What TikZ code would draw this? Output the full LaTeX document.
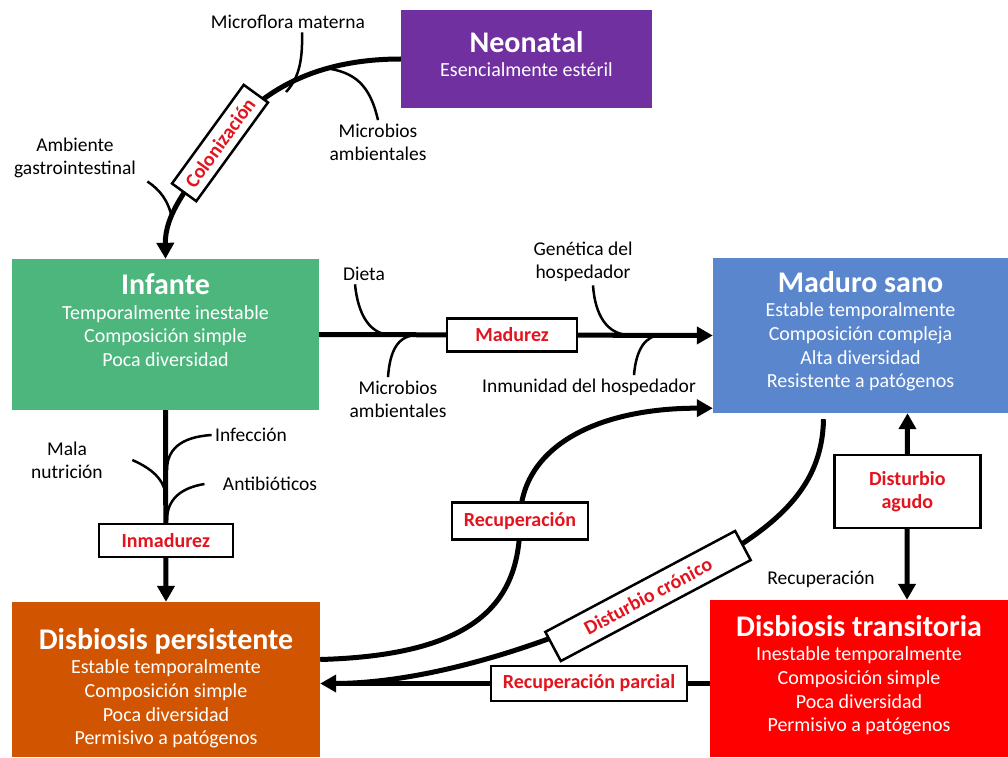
\documentclass[tikz,border=0pt]{standalone}
\usepackage{fontspec}
\setmainfont{Carlito}
\usetikzlibrary{arrows.meta, positioning}
\definecolor{neopurple}{RGB}{112,48,160}
\definecolor{infgreen}{RGB}{77,182,125}
\definecolor{madblue}{RGB}{90,134,206}
\definecolor{perorange}{RGB}{209,84,0}
\definecolor{trared}{RGB}{255,0,0}
\definecolor{labred}{RGB}{228,20,30}
\tikzstyle{stage} = [rectangle, inner sep=0pt]
\tikzstyle{stagetext} = [align=center, text=white, font=\fontsize{20}{23.7}\selectfont, inner sep=0pt]
\tikzstyle{tag} = [rectangle, draw=black, line width=2.5pt, fill=white, text=labred, font=\fontsize{20}{23}\selectfont\bfseries, minimum height=33pt, align=center]
\tikzstyle{factor} = [align=center, font=\fontsize{19.5}{23}\selectfont]
\tikzstyle{arrow} = [line width=5pt, -{Triangle[length=16pt,width=17pt]}]
\tikzstyle{twoway} = [line width=5pt, {Triangle[length=16pt,width=17pt]}-{Triangle[length=16pt,width=17pt]}]
\tikzstyle{flow} = [line width=5pt]
\tikzstyle{branch} = [line width=2.5pt]
\newcommand{\stitle}[1]{{\fontsize{30}{32}\selectfont\bfseries #1}}

\begin{document}
\begin{tikzpicture}[x=1pt, y=-1pt]
  \useasboundingbox (0,0) rectangle (1008,757);
  % stages
  \node (neonatal) [stage, fill=neopurple, minimum width=251pt, minimum height=98pt] at (526.5,59) {};
  \node (infante) [stage, fill=infgreen, minimum width=307pt, minimum height=151pt] at (165.5,334.5) {};
  \node (maduro) [stage, fill=madblue, minimum width=295pt, minimum height=155pt] at (860.5,335.5) {};
  \node (persistente) [stage, fill=perorange, minimum width=308pt, minimum height=155pt] at (166,679.5) {};
  \node (transitoria) [stage, fill=trared, minimum width=298pt, minimum height=157pt] at (859,678.5) {};
  \node (neonataltxt) [stagetext, below=21pt of neonatal.north] {\stitle{Neonatal}\\[1pt] Esencialmente estéril};
  \node (infantetxt) [stagetext, below=14.5pt of infante.north] {\stitle{Infante}\\[1pt] Temporalmente inestable\\ Composición simple\\ Poca diversidad};
  \node (madurotxt) [stagetext, below=13pt of maduro.north] {\stitle{Maduro sano}\\[1pt] Estable temporalmente\\ Composición compleja\\ Alta diversidad\\ Resistente a patógenos};
  \node (persistentetxt) [stagetext, below=26pt of persistente.north] {\stitle{Disbiosis persistente}\\[1pt] Estable temporalmente\\ Composición simple\\ Poca diversidad\\ Permisivo a patógenos};
  \node (transitoriatxt) [stagetext, below=15pt of transitoria.north] {\stitle{Disbiosis transitoria}\\[1pt] Inestable temporalmente\\ Composición simple\\ Poca diversidad\\ Permisivo a patógenos};
  % factors
  \node (microflora) [factor] at (288,22) {Microflora materna};
  \node (microbiosa) [factor] at (378,142) {Microbios\\ambientales};
  \node (ambiente) [factor] at (75,158) {Ambiente\\gastrointestinal};
  \node (dieta) [factor] at (364,274) {Dieta};
  \node (genetica) [factor] at (583,262) {Genética del\\hospedador};
  \node (microbiosb) [factor] at (398,399) {Microbios\\ambientales};
  \node (inmunidad) [factor] at (589,387) {Inmunidad del hospedador};
  \node (mala) [factor] at (67,460) {Mala\\nutrición};
  \node (infeccion) [factor] at (251,435) {Infección};
  \node (antibioticos) [factor] at (270,484) {Antibióticos};
  \node (recuplbl) [factor] at (821,579) {Recuperación};
  % colonizacion
  \draw [branch] ([xshift=14pt]microflora.south) .. controls (303,65) and (297,80) .. (286,92);
  \draw [branch] (microbiosa.north) .. controls (370,85) and (355,72) .. (325,68);
  \draw [branch] ([xshift=8pt]ambiente.south east) .. controls (160,190) and (168,200) .. (172,218);
  \draw [arrow] (neonatal.west) .. controls (310,59) and (255,95) .. (220,143) node (colon) [tag, rotate=54, minimum width=122pt, minimum height=30pt] {Colonización} .. controls (185,190) and (165,215) .. (infante.north);
  % madurez
  \draw [branch] ([xshift=-9pt]dieta.south) .. controls (358,315) and (370,335) .. (392,335);
  \draw [branch] ([xshift=-10pt]microbiosb.north) .. controls (390,350) and (398,335) .. (418,335);
  \draw [branch] ([xshift=10pt]genetica.south) .. controls (595,315) and (607,335) .. (630,335);
  \draw [branch] ([xshift=45pt]inmunidad.north) .. controls (636,350) and (645,335) .. (662,335);
  \draw [arrow] (infante.east) -- node (madurez) [tag, pos=0.49, minimum width=130pt] {Madurez} (maduro.west);
  % inmadurez
  \draw [branch] (infeccion.west) .. controls (180,437) and (167,450) .. (167,470);
  \draw [branch] ([xshift=26pt]mala.east) .. controls (155,470) and (166,482) .. (166,500);
  \draw [branch] ([xshift=-15pt]antibioticos.west) .. controls (180,488) and (167,500) .. (167,520);
  \draw [arrow] (infante.south) -- node (inmadurez) [tag, pos=0.68, minimum width=134pt] {Inmadurez} (persistente.north);
  % recuperacion y disturbios
  \draw [arrow] ([yshift=20pt]persistente.east) .. controls (480,655) and (520,600) .. (520,521) node (recup) [tag, minimum width=136pt, minimum height=37pt] {Recuperación} .. controls (520,445) and (600,408) .. ([yshift=5pt]maduro.south west);
  \draw [flow] ([xshift=-37pt,yshift=-6pt]maduro.south) .. controls (822,500) and (760,540) .. (648,596) node (cronico) [tag, rotate=28, minimum width=215pt] {Disturbio crónico} .. controls (540,650) and (420,683.5) .. ([xshift=14pt,yshift=-4pt]persistente.east);
  \draw [arrow] ([yshift=-5pt]transitoria.west) -- node (parcial) [tag, pos=0.31, minimum width=196pt, minimum height=35pt] {Recuperación parcial} ([yshift=-4pt]persistente.east);
  \draw [twoway] ([xshift=47pt]maduro.south) -- node (agudo) [tag, pos=0.42, minimum width=146pt, minimum height=73pt] {Disturbio\\agudo} ([xshift=48pt]transitoria.north);
\end{tikzpicture}
\end{document}
